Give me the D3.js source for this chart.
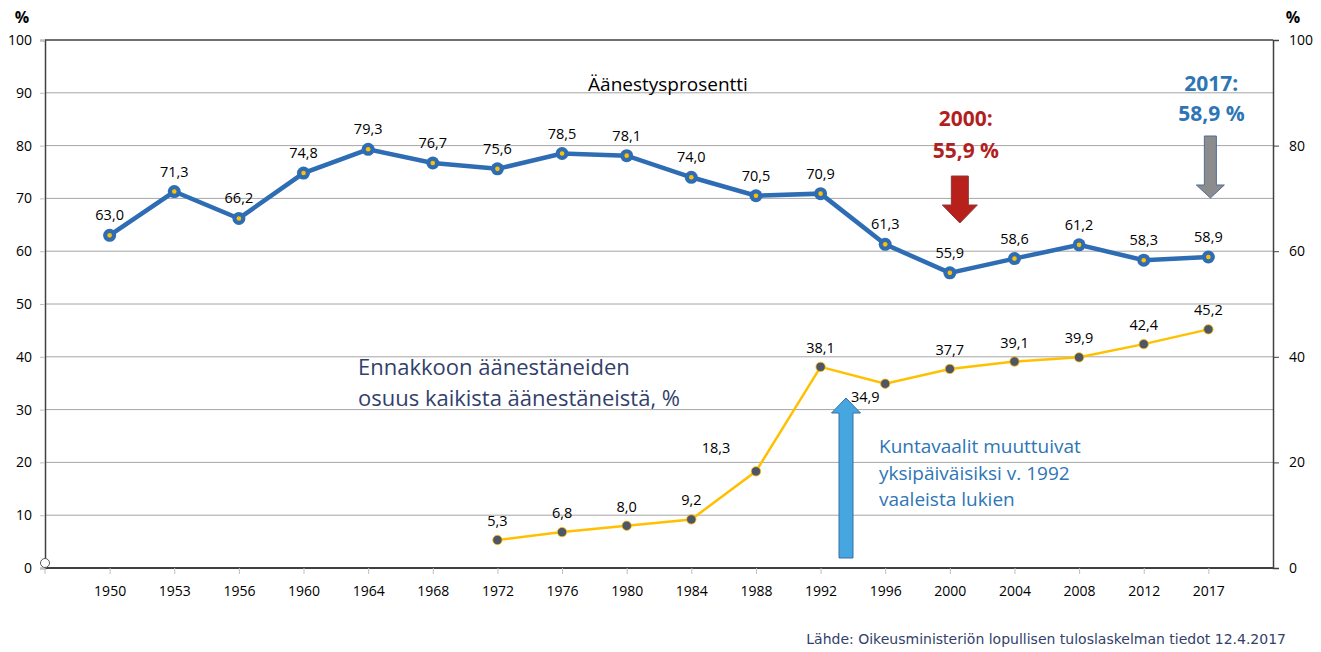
<!DOCTYPE html>
<html>
<head>
<meta charset="utf-8">
<script src="https://cdn.jsdelivr.net/npm/d3@7/dist/d3.min.js"></script>
<style>
	body { margin: 0; background: #fff; }
	text { font-family: "Open Sans", "DejaVu Sans", sans-serif; }
</style>
</head>
<body>
<svg></svg>
<script>
const SVG_WIDTH = 1321;
const SVG_HEIGHT = 652;
const LEFT = 45;
const RIGHT = 1273;
const TOP = 40;
const BOTTOM = 568;

const years = ["1950", "1953", "1956", "1960", "1964", "1968", "1972", "1976", "1980",
	"1984", "1988", "1992", "1996", "2000", "2004", "2008", "2012", "2017"];
const turnout = [63.0, 71.3, 66.2, 74.8, 79.3, 76.7, 75.6, 78.5, 78.1,
	74.0, 70.5, 70.9, 61.3, 55.9, 58.6, 61.2, 58.3, 58.9];
const advanceYears = ["1972", "1976", "1980", "1984", "1988", "1992", "1996", "2000",
	"2004", "2008", "2012", "2017"];
const advanceShare = [5.3, 6.8, 8.0, 9.2, 18.3, 38.1, 34.9, 37.7, 39.1, 39.9, 42.4, 45.2];
const leftTicks = [0, 10, 20, 30, 40, 50, 60, 70, 80, 90, 100];
const rightTicks = [0, 20, 40, 60, 80, 100];

const fmt = function(v) { return v.toFixed(1).replace(".", ","); };

const svg = d3.select("svg")
	.attr("width", SVG_WIDTH)
	.attr("height", SVG_HEIGHT);

const xScale = d3.scalePoint()
	.domain(years)
	.range([LEFT, RIGHT])
	.padding(1);
const yScale = d3.scaleLinear()
	.domain([0, 100])
	.range([BOTTOM, TOP]);

// Gridlines
svg.append("g").selectAll("line")
	.data(leftTicks.filter(function(d) { return d > 0 && d < 100; }))
	.enter()
	.append("line")
	.attr("x1", LEFT).attr("x2", RIGHT)
	.attr("y1", function(d) { return yScale(d); })
	.attr("y2", function(d) { return yScale(d); })
	.attr("stroke", "#a6a6a6").attr("stroke-width", 1);

// top frame line
svg.append("line").attr("x1", LEFT).attr("x2", RIGHT).attr("y1", TOP).attr("y2", TOP)
	.attr("stroke", "#404040").attr("stroke-width", 1.5);

// Left axis
const leftAxis = d3.axisLeft(yScale).tickValues(leftTicks).tickSize(5).tickPadding(8);
const gLeft = svg.append("g").attr("transform", "translate(" + LEFT + ",0)").call(leftAxis);
gLeft.select(".domain").attr("stroke", "#404040").attr("stroke-width", 1.5);
gLeft.selectAll(".tick line").attr("stroke", "#bfbfbf");
gLeft.selectAll("text").style("font-size", "14px").attr("fill", "#000");

// Right axis
const rightAxis = d3.axisRight(yScale).tickValues(rightTicks).tickSize(6).tickPadding(10);
const gRight = svg.append("g").attr("transform", "translate(" + RIGHT + ",0)").call(rightAxis);
gRight.select(".domain").attr("stroke", "#404040").attr("stroke-width", 1.5);
gRight.selectAll(".tick line").attr("stroke", "#404040");
gRight.selectAll("text").style("font-size", "14px").attr("fill", "#000");

// Bottom axis
const bottomAxis = d3.axisBottom(xScale).tickSize(6).tickPadding(12);
const gBottom = svg.append("g").attr("transform", "translate(0," + BOTTOM + ")").call(bottomAxis);
gBottom.select(".domain").attr("d", "M" + LEFT + ",0H" + RIGHT).attr("stroke", "#404040").attr("stroke-width", 2);
gBottom.selectAll(".tick line").attr("stroke", "#bfbfbf");
gBottom.selectAll("text").style("font-size", "14px").attr("fill", "#000");
gBottom.append("line").attr("x1", LEFT).attr("x2", LEFT).attr("y1", 0).attr("y2", 6).attr("stroke", "#bfbfbf");

// Percent signs
svg.append("text").attr("x", 22).attr("y", 23).attr("text-anchor", "middle")
	.style("font-size", "16px").style("font-weight", "bold").text("%");
svg.append("text").attr("x", 1293).attr("y", 23).attr("text-anchor", "middle")
	.style("font-size", "16px").style("font-weight", "bold").text("%");

// Empty start marker
svg.append("circle").attr("cx", LEFT).attr("cy", BOTTOM - 5).attr("r", 4.5)
	.attr("fill", "#fff").attr("stroke", "#595959").attr("stroke-width", 1);

const line = d3.line()
	.x(function(d) { return xScale(d.year); })
	.y(function(d) { return yScale(d.value); });

// Advance voting line
const advData = advanceYears.map(function(y, i) { return {year: y, value: advanceShare[i]}; });
svg.append("path").datum(advData).attr("d", line)
	.attr("fill", "none").attr("stroke", "#ffc000").attr("stroke-width", 2.5);
svg.append("g").selectAll("circle").data(advData).enter().append("circle")
	.attr("cx", function(d) { return xScale(d.year); })
	.attr("cy", function(d) { return yScale(d.value); })
	.attr("r", 4.7)
	.attr("fill", "#4d5566").attr("stroke", "#ffc000").attr("stroke-width", 0.8);
svg.append("g").selectAll("text").data(advData).enter().append("text")
	.attr("x", function(d) {
		if (d.year == "1988") return xScale(d.year) - 40;
		if (d.year == "1996") return xScale(d.year) - 20;
		return xScale(d.year);
	})
	.attr("y", function(d) {
		if (d.year == "1988") return yScale(d.value) - 18;
		if (d.year == "1996") return yScale(d.value) + 18;
		return yScale(d.value) - 14;
	})
	.attr("text-anchor", "middle")
	.style("font-size", "14.5px").attr("fill", "#000")
	.text(function(d) { return fmt(d.value); });

// Turnout line
const turnData = years.map(function(y, i) { return {year: y, value: turnout[i]}; });
svg.append("path").datum(turnData).attr("d", line)
	.attr("fill", "none").attr("stroke", "#2e6db4").attr("stroke-width", 4.5);
const markers = svg.append("g").selectAll("g").data(turnData).enter().append("g")
	.attr("transform", function(d) { return "translate(" + xScale(d.year) + "," + yScale(d.value) + ")"; });
markers.append("circle").attr("r", 6.5).attr("fill", "#2e6db4");
markers.append("circle").attr("r", 2.3).attr("fill", "#ffc000");
svg.append("g").selectAll("text").data(turnData).enter().append("text")
	.attr("x", function(d) { return xScale(d.year); })
	.attr("y", function(d) { return yScale(d.value) - 15; })
	.attr("text-anchor", "middle")
	.style("font-size", "14.5px").attr("fill", "#000")
	.text(function(d) { return fmt(d.value); });

// Titles and notes
svg.append("text").attr("x", 668).attr("y", 91).attr("text-anchor", "middle")
	.style("font-size", "19px").attr("fill", "#000").text("Äänestysprosentti");

svg.append("text").attr("x", 358).attr("y", 375).style("font-size", "22px").attr("fill", "#333f6b")
	.text("Ennakkoon äänestäneiden");
svg.append("text").attr("x", 358).attr("y", 406).style("font-size", "22px").attr("fill", "#333f6b")
	.text("osuus kaikista äänestäneistä, %");

const noteLines = ["Kuntavaalit muuttuivat", "yksipäiväisiksi v. 1992", "vaaleista lukien"];
svg.append("g").selectAll("text").data(noteLines).enter().append("text")
	.attr("x", 879)
	.attr("y", function(d, i) { return 453 + i * 26.5; })
	.style("font-size", "19px").attr("fill", "#2e75b6")
	.text(function(d) { return d; });

// 2000 annotation
const x2000 = xScale("2000");
svg.append("text").attr("x", x2000 + 16).attr("y", 126).attr("text-anchor", "middle")
	.style("font-size", "21px").style("font-weight", "bold").attr("fill", "#b21f1f").text("2000:");
svg.append("text").attr("x", x2000 + 16).attr("y", 158).attr("text-anchor", "middle")
	.style("font-size", "21px").style("font-weight", "bold").attr("fill", "#b21f1f").text("55,9 %");

// 2017 annotation
const x2017 = xScale("2017");
svg.append("text").attr("x", x2017 + 3).attr("y", 91).attr("text-anchor", "middle")
	.style("font-size", "21px").style("font-weight", "bold").attr("fill", "#2e75b6").text("2017:");
svg.append("text").attr("x", x2017 + 3).attr("y", 121).attr("text-anchor", "middle")
	.style("font-size", "21px").style("font-weight", "bold").attr("fill", "#2e75b6").text("58,9 %");

function arrow(cx, start, headY, tip, bodyW, headW, fill, stroke) {
	const pts = [
		[cx - bodyW / 2, start], [cx + bodyW / 2, start], [cx + bodyW / 2, headY],
		[cx + headW / 2, headY], [cx, tip], [cx - headW / 2, headY], [cx - bodyW / 2, headY]
	];
	svg.append("polygon").attr("points", pts.map(function(p) { return p.join(","); }).join(" "))
		.attr("fill", fill).attr("stroke", stroke).attr("stroke-width", 1);
}

arrow(x2000 + 10, 176, 205, 223, 17, 35, "#b8201c", "#8a3a3a");
arrow(x2017 + 2, 136, 185, 198, 12, 28, "#8c8c8c", "#4f6e96");
// up arrow next to 1992
arrow(846, 558, 413, 398, 14, 29, "#45a6e0", "#3a6fa8");

// Source
svg.append("text").attr("x", 1286).attr("y", 644).attr("text-anchor", "end")
	.style("font-family", "'DejaVu Sans', sans-serif")
	.style("font-size", "14px").attr("fill", "#333f6b")
	.text("Lähde: Oikeusministeriön lopullisen tuloslaskelman tiedot 12.4.2017");
</script>
</body>
</html>
